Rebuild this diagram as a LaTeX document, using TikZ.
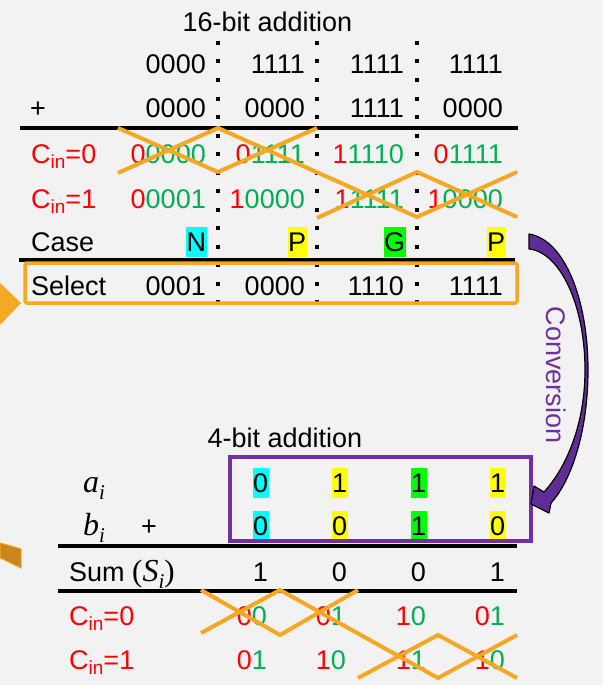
\documentclass[tikz,border=0pt]{standalone}
\usepackage{fontspec}
\setmainfont{Liberation Sans}
\newfontfamily\serifvar{Liberation Serif}
\definecolor{bgcol}{HTML}{F2F2F2}
\definecolor{redbit}{HTML}{FF0000}
\definecolor{grnbit}{HTML}{00B050}
\definecolor{orng}{RGB}{246,167,35}
\definecolor{darkorng}{RGB}{200,134,28}
\definecolor{purp}{HTML}{7030A0}
\definecolor{arrowpurp}{RGB}{96,44,150}
\definecolor{hlcyan}{HTML}{00FFFF}
\definecolor{hlyellow}{HTML}{FFFF00}
\definecolor{hlgreen}{HTML}{00FF00}
% carry-in label: C with subscript "in"
\newcommand\cinlab[1]{C\raisebox{-5pt}{\fontsize{19}{19}\selectfont in}=#1}
% carry bit in red followed by the remaining bits in green
\newcommand\bitpair[2]{\textcolor{redbit}{#1}\textcolor{grnbit}{#2}}
% italic variable with subscript i
\newcommand\varsub[1]{{\fontsize{32}{36}\selectfont\serifvar\itshape #1}\raisebox{-7pt}{\fontsize{21}{21}\selectfont\serifvar\itshape i}}
\begin{document}
\begin{tikzpicture}[x=1pt,y=-1pt,
  every node/.style={inner sep=0pt, font=\fontsize{27}{32}\selectfont},
  val/.style={anchor=base east},
  lab/.style={anchor=base west},
  rule/.style={line width=4.5pt},
  colsep/.style={line width=4pt, dash pattern=on 4pt off 14.5pt},
  swap/.style={draw=orng, line width=4pt},
  hl/.style={anchor=base east, text height=24.4pt, text depth=5.7pt, inner xsep=0.6pt, inner ysep=0pt, fill=#1}]
\fill[bgcol] (0,0) rectangle (603,685);
\useasboundingbox (0,0) rectangle (603,685);

% ---------------- 16-bit addition ----------------
\node[anchor=base] (title16) at (267.5,31.5) {16-bit addition};

\node[val] (a1) at (206,74) {0000};
\node[val] (a2) at (305,74) {1111};
\node[val] (a3) at (404,74) {1111};
\node[val] (a4) at (503,74) {1111};

\node[anchor=base] (plus16) at (38,117) {+};
\node[val] (b1) at (206,117) {0000};
\node[val] (b2) at (305,117) {0000};
\node[val] (b3) at (404,117) {1111};
\node[val] (b4) at (503,117) {0000};

\node[lab, text=redbit] (cz16) at (31,163) {\cinlab{0}};
\node[val] (z1) at (206,163) {\bitpair{0}{0000}};
\node[val] (z2) at (305,163) {\bitpair{0}{1111}};
\node[val] (z3) at (404,163) {\bitpair{1}{1110}};
\node[val] (z4) at (503,163) {\bitpair{0}{1111}};

\node[lab, text=redbit] (co16) at (31,208) {\cinlab{1}};
\node[val] (o1) at (206,208) {\bitpair{0}{0001}};
\node[val] (o2) at (305,208) {\bitpair{1}{0000}};
\node[val] (o3) at (404,208) {\bitpair{1}{1111}};
\node[val] (o4) at (503,208) {\bitpair{1}{0000}};

\node[lab] (caselab) at (31,251) {Case};
\node[hl=hlcyan] (k1) at (207,251) {N};
\node[hl=hlyellow] (k2) at (307,251) {P};
\node[hl=hlgreen] (k3) at (406,251) {G};
\node[hl=hlyellow] (k4) at (506,251) {P};

\node[lab] (sellab) at (31,295) {Select};
\node[val] (s1) at (206,295) {0001};
\node[val] (s2) at (305,295) {0000};
\node[val] (s3) at (404,295) {1110};
\node[val] (s4) at (503,295) {1111};

% column separators
\foreach \x in {218,317,417}
  \draw[colsep] (\x,41) -- (\x,304);

\draw[rule] (20,128) -- (518,128);
\draw[line width=4pt] (19,260) -- (515,260);

\node[draw=orng, line width=3.5pt, rounded corners=1.5pt,
      minimum width=492pt, minimum height=40pt] (selbox) at (271,283) {};

% carry selection paths
\coordinate (t0) at (118,128);  \coordinate (t1) at (118,173);
\coordinate (u0) at (218,128);  \coordinate (u1) at (218,172);
\coordinate (v0) at (317,128);  \coordinate (v1) at (317,218);
\coordinate (w0) at (417,172);  \coordinate (w1) at (417,217);
\coordinate (e0) at (517,172);  \coordinate (e1) at (517,217);
\draw[swap] (t0) -- (u1) -- (v0);
\draw[swap] (t1) -- (u0) -- (w1) -- (e0);
\draw[swap] (v1) -- (w0) -- (e1);

% ---------------- 4-bit addition ----------------
\node[anchor=base] (title4) at (285,447) {4-bit addition};

\node[lab] (ai) at (83,492) {\varsub{a}};
\node[hl=hlcyan] (p1) at (269,492) {0};
\node[hl=hlyellow] (p2) at (348,492) {1};
\node[hl=hlgreen] (p3) at (427,492) {1};
\node[hl=hlyellow] (p4) at (506,492) {1};

\node[lab] (bi) at (83,535) {\varsub{b}};
\node[anchor=base] (plus4) at (149,535) {+};
\node[hl=hlcyan] (q1) at (269,535) {0};
\node[hl=hlyellow] (q2) at (348,535) {0};
\node[hl=hlgreen] (q3) at (427,535) {1};
\node[hl=hlyellow] (q4) at (506,535) {0};

\node[draw=purp, line width=4pt, minimum width=301pt, minimum height=84pt] (pbox) at (380.5,499) {};

\draw[rule] (58,546) -- (517,546);

\node[lab] (sumlab) at (69,581) {Sum {\fontsize{31}{36}\selectfont\serifvar(}\varsub{S}{\fontsize{31}{36}\selectfont\serifvar)}};
\node[val] (m1) at (268,581) {1};
\node[val] (m2) at (347,581) {0};
\node[val] (m3) at (426,581) {0};
\node[val] (m4) at (505,581) {1};

\draw[rule] (58,591) -- (517,591);

\node[lab, text=redbit] (cz4) at (69,625) {\cinlab{0}};
\node[val] (g1) at (267,625) {\bitpair{0}{0}};
\node[val] (g2) at (346,625) {\bitpair{0}{1}};
\node[val] (g3) at (426,625) {\bitpair{1}{0}};
\node[val] (g4) at (505,625) {\bitpair{0}{1}};

\node[lab, text=redbit] (co4) at (69,669) {\cinlab{1}};
\node[val] (h1) at (267,669) {\bitpair{0}{1}};
\node[val] (h2) at (346,669) {\bitpair{1}{0}};
\node[val] (h3) at (426,669) {\bitpair{1}{1}};
\node[val] (h4) at (505,669) {\bitpair{1}{0}};

\coordinate (T0) at (201,590);  \coordinate (T1) at (201,633);
\coordinate (U0) at (280,590);  \coordinate (U1) at (280,635);
\coordinate (V0) at (358,590);  \coordinate (V1) at (358,678);
\coordinate (W0) at (438,635);  \coordinate (W1) at (438,678);
\coordinate (E0) at (517,635);  \coordinate (E1) at (517,678);
\draw[swap] (T0) -- (U1) -- (V0);
\draw[swap] (T1) -- (U0) -- (W1) -- (E0);
\draw[swap] (V1) -- (W0) -- (E1);

% ---------------- conversion arrow ----------------
\filldraw[fill=arrowpurp, draw=black, line width=1.2pt, line join=round]
  (529,234) -- (529,249)
  .. controls (560,252) and (585,305) .. (585,370)
  .. controls (585,425) and (566,468) .. (544,492)
  -- (534,486) -- (531,504) -- (549,513) -- (551,503)
  .. controls (572,480) and (588,430) .. (588,370)
  .. controls (588,300) and (565,240) .. (529,234) -- cycle;
\node[rotate=-90, text=purp] (conv) at (556,375) {Conversion};

% partial shapes at the left edge
\fill[orng] (0,283) -- (21,303) -- (0,325) -- cycle;
\filldraw[fill=darkorng, draw=orng, line width=1pt]
  (0,543) .. controls (8,545) and (15,547) .. (21,549) -- (21,568)
  .. controls (14,565) and (7,561) .. (0,558) -- cycle;
\end{tikzpicture}
\end{document}
